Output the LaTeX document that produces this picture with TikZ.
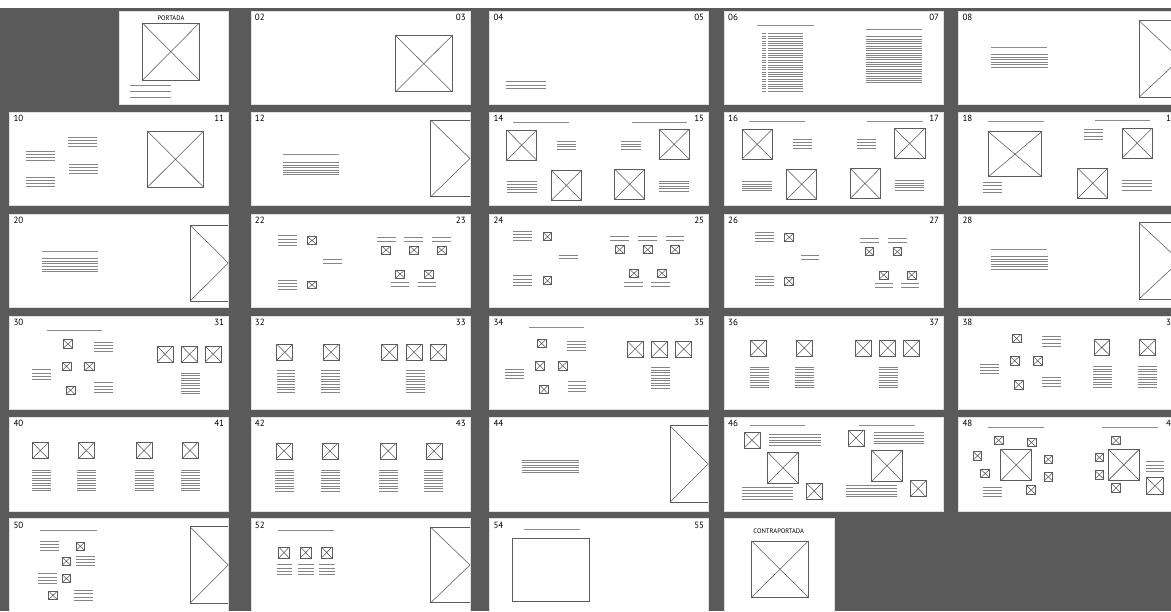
\documentclass[tikz,border=0pt]{standalone}
\usepackage{fontspec}
\setmainfont{PT Sans}
\definecolor{bgdark}{HTML}{5A5A5A}
\tikzset{
 xb/.style={draw=black!64, line width=0.55pt},
 tl/.style={draw=black!48, line width=0.45pt},
 ttl/.style={draw=black!45, line width=0.7pt},
 pg/.style={fill=white, draw=black!12, line width=0.4pt},
 num/.style={inner sep=0pt, font=\fontsize{9}{9}\selectfont, text=black},
 capt/.style={inner sep=0pt, font=\fontsize{6.6}{7}\selectfont, text=black}
}
\newcommand\wfX[4]{\draw[xb] (#1,#2) rectangle (#3,#4); \draw[xb] (#1,#2) -- (#3,#4) (#1,#4) -- (#3,#2);}
\newcommand\wfB[4]{\draw[xb] (#3,#2) -- (#1,#2) -- (#1,#4) -- (#3,#4); \draw[xb] (#1,#2) -- (#3,{(#2+#4)/2}) -- (#1,#4);}
\newcommand\wfT[5]{\foreach \i in {1,...,#5}{\draw[tl] (#1,{#3+(#4-#3)*(\i-1)/(#5-1)}) -- (#2,{#3+(#4-#3)*(\i-1)/(#5-1)});}}
\newcommand\wfL[3]{\draw[ttl] (#1,#3) -- (#2,#3);}
\newcommand\wfR[4]{\draw[xb] (#1,#2) rectangle (#3,#4);}
\begin{document}
\begin{tikzpicture}[x=1pt,y=-1pt]
\useasboundingbox (0,0) rectangle (1171,611);
\clip (0,0) rectangle (1171,611);
\fill[white] (0,0) rectangle (1171,8);
\fill[bgdark] (0,8) rectangle (1171,611);
% pages
\draw[pg] (118.7,10.7) rectangle (228.3,104);
\draw[pg] (250.7,10.7) rectangle (470,104);
\draw[pg] (489.3,10.7) rectangle (708.3,104);
\draw[pg] (724,10.7) rectangle (943.3,104);
\draw[pg] (958.3,10.7) rectangle (1180,104);
\draw[pg] (9.3,112.3) rectangle (228.3,205.3);
\draw[pg] (250.7,112.3) rectangle (470,205.3);
\draw[pg] (489.3,112.3) rectangle (708.3,205.3);
\draw[pg] (724,112.3) rectangle (943.3,205.3);
\draw[pg] (958.3,112.3) rectangle (1180,205.3);
\draw[pg] (9.3,214) rectangle (228.3,307.3);
\draw[pg] (250.7,214) rectangle (470,307.3);
\draw[pg] (489.3,214) rectangle (708.3,307.3);
\draw[pg] (724,214) rectangle (943.3,307.3);
\draw[pg] (958.3,214) rectangle (1180,307.3);
\draw[pg] (9.3,316) rectangle (228.3,409);
\draw[pg] (250.7,316) rectangle (470,409);
\draw[pg] (489.3,316) rectangle (708.3,409);
\draw[pg] (724,316) rectangle (943.3,409);
\draw[pg] (958.3,316) rectangle (1180,409);
\draw[pg] (9.3,416.7) rectangle (228.3,510.7);
\draw[pg] (250.7,416.7) rectangle (470,510.7);
\draw[pg] (489.3,416.7) rectangle (708.3,510.7);
\draw[pg] (724,416.7) rectangle (943.3,510.7);
\draw[pg] (958.3,416.7) rectangle (1180,510.7);
\draw[pg] (9.3,518.5) rectangle (228.3,620);
\draw[pg] (250.7,518.5) rectangle (470,620);
\draw[pg] (489.3,518.5) rectangle (708.3,620);
\draw[pg] (724,518.5) rectangle (834,620);
% page numbers
\node[num,anchor=north west] (n02) at (254.7,13.7) {02};
\node[num,anchor=north east] (n03) at (466,13.7) {03};
\node[num,anchor=north west] (n04) at (493.3,13.7) {04};
\node[num,anchor=north east] (n05) at (704.3,13.7) {05};
\node[num,anchor=north west] (n06) at (728,13.7) {06};
\node[num,anchor=north east] (n07) at (939.3,13.7) {07};
\node[num,anchor=north west] (n08) at (962.3,13.7) {08};
\node[num,anchor=north west] (n10) at (13.3,115.3) {10};
\node[num,anchor=north east] (n11) at (224.3,115.3) {11};
\node[num,anchor=north west] (n12) at (254.7,115.3) {12};
\node[num,anchor=north west] (n14) at (493.3,115.3) {14};
\node[num,anchor=north east] (n15) at (704.3,115.3) {15};
\node[num,anchor=north west] (n16) at (728,115.3) {16};
\node[num,anchor=north east] (n17) at (939.3,115.3) {17};
\node[num,anchor=north west] (n18) at (962.3,115.3) {18};
\node[num,anchor=north east] (n19) at (1176,115.3) {19};
\node[num,anchor=north west] (n20) at (13.3,217) {20};
\node[num,anchor=north west] (n22) at (254.7,217) {22};
\node[num,anchor=north east] (n23) at (466,217) {23};
\node[num,anchor=north west] (n24) at (493.3,217) {24};
\node[num,anchor=north east] (n25) at (704.3,217) {25};
\node[num,anchor=north west] (n26) at (728,217) {26};
\node[num,anchor=north east] (n27) at (939.3,217) {27};
\node[num,anchor=north west] (n28) at (962.3,217) {28};
\node[num,anchor=north west] (n30) at (13.3,319) {30};
\node[num,anchor=north east] (n31) at (224.3,319) {31};
\node[num,anchor=north west] (n32) at (254.7,319) {32};
\node[num,anchor=north east] (n33) at (466,319) {33};
\node[num,anchor=north west] (n34) at (493.3,319) {34};
\node[num,anchor=north east] (n35) at (704.3,319) {35};
\node[num,anchor=north west] (n36) at (728,319) {36};
\node[num,anchor=north east] (n37) at (939.3,319) {37};
\node[num,anchor=north west] (n38) at (962.3,319) {38};
\node[num,anchor=north east] (n39) at (1176,319) {39};
\node[num,anchor=north west] (n40) at (13.3,419.7) {40};
\node[num,anchor=north east] (n41) at (224.3,419.7) {41};
\node[num,anchor=north west] (n42) at (254.7,419.7) {42};
\node[num,anchor=north east] (n43) at (466,419.7) {43};
\node[num,anchor=north west] (n44) at (493.3,419.7) {44};
\node[num,anchor=north west] (n46) at (728,419.7) {46};
\node[num,anchor=north west] (n48) at (962.3,419.7) {48};
\node[num,anchor=north east] (n49) at (1176,419.7) {49};
\node[num,anchor=north west] (n50) at (13.3,521.5) {50};
\node[num,anchor=north west] (n52) at (254.7,521.5) {52};
\node[num,anchor=north west] (n54) at (493.3,521.5) {54};
\node[num,anchor=north east] (n55) at (704.3,521.5) {55};
% portada
\node[capt] (portada) at (171,18.3) {PORTADA};
\wfX{142.7}{23.3}{199}{80}
\wfT{130}{171}{85}{97.7}{3}
% 02-03
\wfX{395.7}{35.7}{452}{91.7}
% 04-05
\wfT{506}{546}{81.7}{88.3}{3}
% 06-07
\wfL{757.3}{813.7}{25.7}
\wfT{762}{766}{33.7}{91}{25}
\wfT{768.3}{803.3}{33.7}{91}{25}
\wfL{865.7}{921.7}{29.3}
\wfT{865.7}{922}{36.7}{82.7}{21}
% 08
\wfL{991}{1047.3}{47}
\wfT{991}{1048}{54.3}{67.3}{6}
\wfB{1139}{20.7}{1180}{97.3}
% 10-11
\wfT{26}{55}{151}{160}{4}
\wfT{68.3}{97}{137.3}{146}{4}
\wfT{69}{97.7}{164}{173.3}{4}
\wfT{26}{55}{177.3}{186.7}{4}
\wfX{147.3}{131}{203.7}{187.3}
% 12
\wfL{282.7}{339}{154.3}
\wfT{282.7}{339}{162.3}{174.7}{6}
\wfB{430.7}{120.3}{470}{196.7}
% 14-15
\wfL{513.3}{569.3}{122.3}
\wfL{631.7}{686.7}{122.3}
\wfX{506.7}{130}{536.7}{160.3}
\wfT{557.3}{576.3}{141}{149.3}{4}
\wfT{621.3}{640.7}{141}{149.3}{4}
\wfX{659}{129.3}{689.3}{159.3}
\wfT{506.7}{536.7}{181.7}{192}{5}
\wfX{551}{170}{581.7}{200.7}
\wfX{614.7}{169.3}{644.7}{199.3}
\wfT{659.3}{689.3}{181}{191}{5}
% 16-17
\wfL{748.7}{805}{121.7}
\wfL{866.7}{922.7}{121.7}
\wfX{742}{129.3}{772.3}{159.3}
\wfT{792.7}{811.7}{139.7}{148.7}{4}
\wfT{856.7}{876}{139.7}{148.7}{4}
\wfX{894.3}{128.3}{925}{158.7}
\wfT{742}{772.3}{181.7}{190.7}{5}
\wfX{786.7}{169.3}{816.7}{199.3}
\wfX{850}{168.3}{880}{198.7}
\wfT{894.7}{924.3}{180.3}{190}{5}
% 18-19
\wfL{988.3}{1044}{121.7}
\wfL{1095}{1150}{120.3}
\wfX{988.3}{131.7}{1041.7}{176.7}
\wfT{983.3}{1002.3}{182.3}{192}{4}
\wfT{1084}{1103.3}{129.3}{139.3}{4}
\wfX{1122}{128}{1152.3}{158.3}
\wfX{1077.7}{168.3}{1107.7}{198.3}
\wfT{1122}{1152.3}{180}{190}{4}
% 20
\wfL{42}{98}{251.3}
\wfT{42}{98.3}{258.3}{271.7}{6}
\wfB{190}{225}{228.3}{301}
% 22-23
\wfT{278.3}{296.7}{235.7}{245}{4}
\wfX{307.3}{236.7}{316.7}{244.3}
\wfT{323.3}{342.3}{259}{263.3}{2}
\wfT{278.3}{296.7}{280}{289}{4}
\wfX{307.3}{281}{316.7}{288.7}
\wfT{376.7}{395.7}{237.3}{241.7}{2}
\wfX{381.7}{246}{390.7}{254}
\wfT{404.3}{423.3}{237.3}{241.7}{2}
\wfX{409.3}{246}{418.7}{254}
\wfT{432}{451}{237.3}{241.7}{2}
\wfX{437}{246}{446}{254}
\wfX{395.7}{270}{404.7}{278}
\wfT{390.7}{409.3}{282.7}{286.7}{2}
\wfX{424}{270}{433}{278}
\wfT{417.7}{436.3}{282.7}{286.7}{2}
% 24-25
\wfT{513.3}{532}{231.7}{240.7}{4}
\wfX{543.3}{232.7}{551.7}{240.7}
\wfT{559.3}{577.7}{255}{258.7}{2}
\wfT{513.3}{532}{275.7}{285}{4}
\wfX{543.3}{276.7}{551.7}{284.7}
\wfT{610}{629}{236.7}{240.7}{2}
\wfX{615.3}{245.7}{624}{253.7}
\wfT{638}{657}{236.7}{240.7}{2}
\wfX{643.3}{245.7}{652}{253.7}
\wfT{665.7}{684.3}{236.7}{240.7}{2}
\wfX{670.7}{245.7}{679.3}{253.7}
\wfX{629.7}{269.3}{638.3}{277.3}
\wfT{624.3}{643.3}{282}{286}{2}
\wfX{657.7}{269.3}{666.3}{277.3}
\wfT{651}{670}{282}{286}{2}
% 26-27
\wfT{755}{773.7}{232.3}{241.3}{4}
\wfX{784.7}{233.3}{793.7}{241.3}
\wfT{800.7}{819}{255.7}{259.3}{2}
\wfT{755}{773.7}{276}{285.7}{4}
\wfX{784.7}{277}{793.7}{285.3}
\wfT{860}{878.7}{238.7}{242.7}{2}
\wfX{865}{247.7}{873.7}{255.7}
\wfT{888}{906.7}{238.7}{242.7}{2}
\wfX{893}{247.7}{901.7}{255.7}
\wfX{879.3}{271}{888}{279}
\wfT{875}{893.3}{283.7}{287.7}{2}
\wfX{907.3}{271}{916}{279}
\wfT{901}{919.3}{283.7}{287.7}{2}
% 28
\wfL{991}{1047.3}{249}
\wfT{991}{1048}{256.7}{269}{6}
\wfB{1139}{222.7}{1180}{299}
% 30-31
\wfL{46.7}{102.3}{330}
\wfX{63.3}{339.7}{72.7}{348.3}
\wfT{94}{112.7}{342}{351.7}{4}
\wfX{62}{362}{71}{370.7}
\wfX{84.7}{362}{94}{370.7}
\wfT{31.7}{50.7}{369.7}{379}{4}
\wfX{66}{386}{75}{394.3}
\wfT{94}{112.7}{382.7}{392.3}{4}
\wfX{157}{346}{173}{362.3}
\wfX{181.7}{346}{197.7}{362.3}
\wfX{205}{346}{221.3}{362.3}
\wfT{181}{200}{373}{393.3}{9}
% 32-33
\wfX{276.7}{344.3}{292.7}{360.3}
\wfX{323}{344.3}{339}{360.3}
\wfT{276.7}{295.3}{370.7}{392.3}{9}
\wfT{321.3}{340.3}{370.7}{392.3}{9}
\wfX{381.7}{344.3}{397.3}{360.3}
\wfX{406}{344.3}{422}{360.3}
\wfX{430}{344.3}{446}{360.3}
\wfT{405.7}{424.7}{370.7}{392.3}{9}
% 34-35
\wfL{529}{584.3}{327.7}
\wfX{537.3}{339.3}{546}{347.7}
\wfT{567.3}{586.3}{341}{350.7}{4}
\wfX{535.7}{361.7}{544.3}{370}
\wfX{558.3}{361.7}{567}{370}
\wfT{505.3}{524.3}{369}{378.3}{4}
\wfX{539.7}{385.3}{548.3}{393.7}
\wfT{567.7}{586.3}{381.7}{391}{4}
\wfX{627.3}{341}{643.3}{357}
\wfX{651.7}{341}{667.7}{357}
\wfX{675.7}{341}{691.7}{357}
\wfT{651.3}{670}{367.3}{388.3}{9}
% 36-37
\wfX{750.3}{340}{766.3}{356}
\wfX{796.3}{340}{812.3}{356}
\wfT{749.7}{768.7}{367}{387.7}{9}
\wfT{795}{813.7}{367}{387.7}{9}
\wfX{855.3}{340}{871.3}{356}
\wfX{879.7}{340}{895.7}{356}
\wfX{903.7}{340}{919.7}{356}
\wfT{879.3}{898}{367}{387.7}{9}
% 38-39
\wfX{1012.3}{334.3}{1021}{342.7}
\wfT{1042}{1061}{336.3}{346}{4}
\wfX{1010.3}{356.7}{1019}{365}
\wfX{1033.3}{356.7}{1042}{365}
\wfT{980}{999}{364}{373.7}{4}
\wfX{1014.3}{380.7}{1023}{389}
\wfT{1042}{1061}{377}{386.7}{4}
\wfX{1094}{339.7}{1109.7}{355.3}
\wfX{1139.7}{339.7}{1155.7}{355.3}
\wfT{1093}{1112}{366.3}{387.3}{9}
\wfT{1138}{1157}{366.3}{387.3}{9}
% 40-41
\wfX{32.3}{442.3}{48.3}{458.7}
\wfX{78.3}{442.3}{94.3}{458.7}
\wfX{136}{442.3}{152}{458.7}
\wfX{182}{442.3}{198}{458.7}
\wfT{32}{50.7}{470}{490.7}{9}
\wfT{77.3}{96}{470}{490.7}{9}
\wfT{135.3}{154}{470}{490.7}{9}
\wfT{180.7}{199.7}{470}{490.7}{9}
% 42-43
\wfX{276}{443}{292}{459}
\wfX{322}{443}{338}{459}
\wfX{380.3}{443}{396.3}{459}
\wfX{426}{443}{442}{459}
\wfT{275.3}{294.3}{470}{491}{9}
\wfT{320.7}{339.7}{470}{491}{9}
\wfT{379}{398}{470}{491}{9}
\wfT{424.3}{443.3}{470}{491}{9}
% 44
\wfT{522}{578.7}{460}{472.3}{6}
\wfB{670}{425.7}{708.3}{502.3}
% 46
\wfL{749.7}{805}{425.7}
\wfL{859.3}{914.7}{425.7}
\wfX{744}{432.3}{760}{448}
\wfT{769.3}{820.7}{434.3}{445.3}{5}
\wfX{848}{430}{864}{446}
\wfT{873.7}{924.3}{432}{443.7}{5}
\wfX{767.7}{452.3}{798.3}{483.3}
\wfX{871.7}{450.3}{902.3}{481.3}
\wfT{741.7}{792.7}{487.7}{499}{5}
\wfX{806.3}{483}{822}{499}
\wfT{846}{897}{485.3}{496.7}{5}
\wfX{910.3}{480.7}{926}{496.7}
% 48-49
\wfL{988.3}{1044.3}{427.3}
\wfL{1102.3}{1158.3}{427.3}
\wfX{994.3}{436.3}{1003}{444.3}
\wfX{1027}{438.3}{1036}{446.7}
\wfX{973.3}{451.7}{981.7}{460}
\wfX{1044}{455.3}{1052.7}{463.3}
\wfX{980.7}{469.3}{989.7}{477.7}
\wfX{1044}{472.7}{1052.7}{481}
\wfX{1026.7}{485.7}{1035.7}{494.3}
\wfX{1000.7}{449.3}{1031.7}{480.7}
\wfT{982.7}{1001.7}{487}{496.7}{4}
\wfX{1111.7}{436.3}{1120.3}{444.7}
\wfX{1095}{453.3}{1103.7}{461.7}
\wfX{1095}{470.7}{1103.7}{479}
\wfX{1111.7}{483.7}{1120.3}{492.3}
\wfX{1108.3}{449.3}{1139.3}{480.3}
\wfT{1145.7}{1164.3}{461.7}{471}{4}
\wfX{1146.3}{477.3}{1163.7}{494.3}
% 50
\wfL{40.3}{96.7}{530.7}
\wfT{40.3}{59.3}{541.7}{550.3}{4}
\wfX{76}{542.3}{84.7}{550.3}
\wfX{62}{557}{70.7}{565.3}
\wfT{76}{95}{556}{565.7}{4}
\wfT{38}{57}{573.7}{583}{4}
\wfX{62}{574.3}{70.7}{582.7}
\wfX{48.7}{591.3}{57.3}{599.3}
\wfT{74}{93}{590.3}{600}{4}
\wfB{190}{526.7}{228.3}{603.3}
% 52
\wfL{278.3}{334.3}{530.7}
\wfX{278.7}{547}{289.3}{558}
\wfX{300.3}{547}{311}{558}
\wfX{321.3}{547}{332}{558}
\wfT{276.7}{292.3}{564.7}{574.3}{4}
\wfT{298}{313.7}{564.7}{574.3}{4}
\wfT{319.3}{335.3}{564.7}{574.3}{4}
\wfB{430.7}{527.3}{470}{602.7}
% 54-55
\wfL{524}{579.7}{529.3}
\wfR{512.3}{538}{589.3}{601}
% contraportada
\node[capt] (contra) at (778.7,531) {CONTRAPORTADA};
\wfX{751.7}{541}{808.3}{597.3}
\end{tikzpicture}
\end{document}
